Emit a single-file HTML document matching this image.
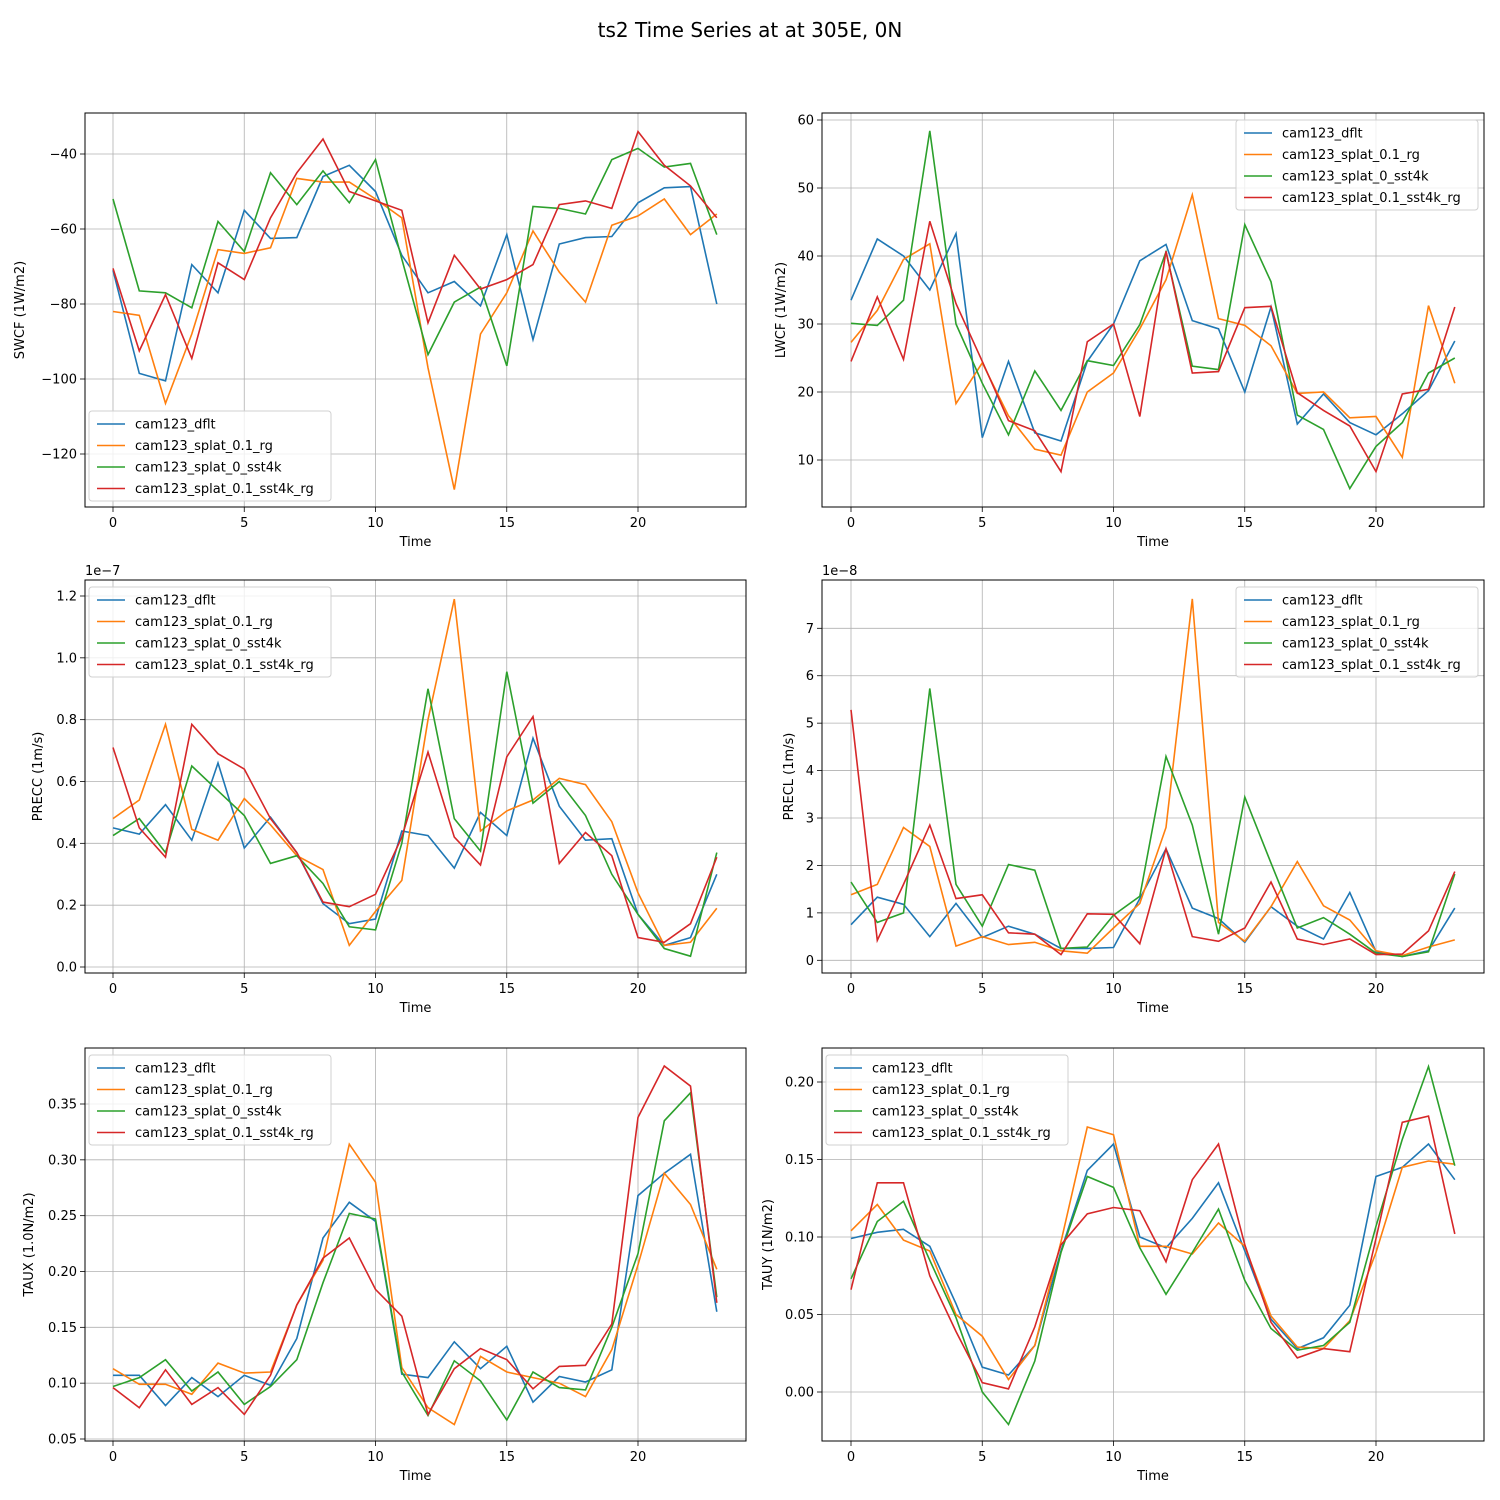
<!DOCTYPE html>
<html><head><meta charset="utf-8"><style>
body{margin:0;background:#fff}
svg{display:block;font-family:"DejaVu Sans","Liberation Sans",sans-serif}
</style></head><body>
<svg id="fig" width="1500" height="1500" viewBox="0 0 1500 1500" xmlns="http://www.w3.org/2000/svg">
<rect width="1500" height="1500" fill="#fff"/>
<text x="750" y="37" font-size="20" text-anchor="middle">ts2 Time Series at at 305E, 0N</text>
</svg>
<script>
const seriesNames=["cam123_dflt","cam123_splat_0.1_rg","cam123_splat_0_sst4k","cam123_splat_0.1_sst4k_rg"];
const colors=["#1f77b4","#ff7f0e","#2ca02c","#d62728"];
const xTicks=[0,5,10,15,20];

const swcfDflt=[-71,-98.5,-100.5,-69.5,-77,-55,-62.5,-62.3,-46,-43,-50,-67,-77,-74,-80.5,-61.5,-89.5,-64,-62.3,-62,-53,-49,-48.7,-80];
const swcfRg=[-82,-83,-106.5,-88,-65.5,-66.5,-65,-46.5,-47.5,-47.5,-52,-57,-97,-129.5,-88,-77,-60.5,-71.5,-79.5,-59,-56.5,-52,-61.5,-56];
const swcfSst=[-52,-76.5,-77,-81,-58,-66,-45,-53.5,-44.5,-53,-41.5,-68,-93.5,-79.5,-75.5,-96.5,-54,-54.5,-56,-41.5,-38.5,-43.5,-42.5,-61.5];
const swcfSstRg=[-70.5,-92.5,-77.5,-94.5,-69,-73.5,-57,-45,-36,-50,-52.5,-55,-85,-67,-76,-73.5,-69.5,-53.5,-52.5,-54.5,-34,-43,-48.5,-57];

const lwcfDflt=[33.5,42.5,40,35,43.3,13.3,24.5,14,12.8,24.5,30,39.3,41.7,30.5,29.3,20,32.5,15.3,19.7,15.5,13.7,16.8,20.2,27.5];
const lwcfRg=[27.3,32,39.5,41.8,18.3,24.3,16.5,11.6,10.7,20,22.8,29.3,36.5,49,30.8,29.8,26.8,19.8,20,16.2,16.4,10.4,32.7,21.3];
const lwcfSst=[30.1,29.8,33.5,58.4,30,21.3,13.7,23.1,17.3,24.6,23.9,29.9,40.6,23.8,23.3,44.6,36.2,16.6,14.5,5.8,12,15.5,22.8,25];
const lwcfSstRg=[24.5,34,24.8,45.1,33,24.5,15.8,14.3,8.3,27.4,30,16.4,40.7,22.8,23,32.4,32.6,19.9,17.3,15,8.3,19.7,20.4,32.5];

const preccDflt=[0.45,0.43,0.525,0.41,0.66,0.385,0.485,0.37,0.205,0.14,0.155,0.44,0.425,0.32,0.5,0.425,0.74,0.52,0.41,0.415,0.17,0.07,0.095,0.3];
const preccRg=[0.48,0.54,0.785,0.445,0.41,0.545,0.46,0.36,0.315,0.07,0.18,0.28,0.8,1.19,0.44,0.505,0.54,0.61,0.59,0.47,0.24,0.07,0.08,0.19];
const preccSst=[0.425,0.48,0.37,0.65,0.57,0.49,0.335,0.36,0.27,0.13,0.12,0.4,0.9,0.48,0.375,0.955,0.53,0.6,0.49,0.3,0.17,0.06,0.035,0.37];
const preccSstRg=[0.71,0.45,0.355,0.785,0.69,0.64,0.48,0.37,0.21,0.195,0.235,0.42,0.695,0.42,0.33,0.68,0.81,0.335,0.435,0.36,0.095,0.08,0.14,0.355];

const preclDflt=[0.75,1.33,1.18,0.5,1.2,0.48,0.72,0.55,0.25,0.25,0.27,1.3,2.35,1.1,0.88,0.38,1.13,0.72,0.45,1.43,0.18,0.08,0.2,1.1];
const preclRg=[1.38,1.6,2.8,2.4,0.3,0.5,0.33,0.38,0.2,0.15,0.68,1.2,2.8,7.62,0.8,0.4,1.13,2.08,1.15,0.85,0.2,0.1,0.28,0.43];
const preclSst=[1.65,0.8,1.0,5.73,1.6,0.72,2.02,1.9,0.25,0.28,0.95,1.35,4.3,2.85,0.55,3.44,2.05,0.68,0.9,0.55,0.15,0.08,0.18,1.82];
const preclSstRg=[5.28,0.42,1.6,2.85,1.3,1.38,0.58,0.55,0.12,0.98,0.97,0.35,2.35,0.5,0.4,0.68,1.65,0.45,0.33,0.45,0.12,0.13,0.62,1.87];

const tauxDflt=[0.107,0.107,0.08,0.105,0.088,0.107,0.098,0.14,0.23,0.262,0.245,0.108,0.105,0.137,0.113,0.133,0.083,0.106,0.101,0.112,0.268,0.288,0.305,0.164];
const tauxRg=[0.113,0.099,0.099,0.09,0.118,0.109,0.11,0.17,0.21,0.314,0.28,0.114,0.078,0.063,0.124,0.11,0.105,0.1,0.088,0.13,0.206,0.288,0.26,0.202];
const tauxSst=[0.097,0.105,0.121,0.093,0.11,0.081,0.097,0.121,0.19,0.252,0.247,0.11,0.071,0.12,0.102,0.067,0.11,0.096,0.094,0.15,0.216,0.335,0.36,0.177];
const tauxSstRg=[0.096,0.078,0.112,0.081,0.096,0.072,0.107,0.17,0.212,0.23,0.184,0.16,0.072,0.113,0.131,0.121,0.095,0.115,0.116,0.153,0.338,0.384,0.366,0.172];

const tauyDflt=[0.099,0.103,0.105,0.094,0.057,0.016,0.011,0.03,0.091,0.143,0.16,0.1,0.093,0.112,0.135,0.091,0.047,0.028,0.035,0.056,0.139,0.145,0.16,0.137];
const tauyRg=[0.104,0.121,0.098,0.091,0.05,0.036,0.008,0.03,0.097,0.171,0.166,0.094,0.094,0.089,0.109,0.094,0.049,0.029,0.028,0.046,0.09,0.145,0.149,0.147];
const tauySst=[0.073,0.11,0.123,0.085,0.048,0.0,-0.021,0.02,0.09,0.139,0.132,0.093,0.063,0.09,0.118,0.072,0.041,0.027,0.03,0.045,0.107,0.163,0.21,0.146];
const tauySstRg=[0.066,0.135,0.135,0.075,0.039,0.006,0.002,0.042,0.095,0.115,0.119,0.117,0.084,0.137,0.16,0.095,0.045,0.022,0.028,0.026,0.099,0.174,0.178,0.102];

const swcfTicks=[-40,-60,-80,-100,-120];
const lwcfTicks=[60,50,40,30,20,10];
const preccTicks=["1.2","1.0","0.8","0.6","0.4","0.2","0.0"];
const preclTicks=[7,6,5,4,3,2,1,0];
const tauxTicks=["0.35","0.30","0.25","0.20","0.15","0.10","0.05"];
const tauyTicks=["0.20","0.15","0.10","0.05","0.00"];

const NS="http://www.w3.org/2000/svg";
const fig=document.getElementById('fig');
function mk(tag,attrs,parent,text){const e=document.createElementNS(NS,tag);for(const k in attrs)e.setAttribute(k,attrs[k]);if(text!==undefined)e.textContent=text;(parent||fig).appendChild(e);return e;}

const panels=[
 {name:"swcf",label:"SWCF (1W/m2)",col:0,row:0,ylab:24,data:[swcfDflt,swcfRg,swcfSst,swcfSstRg],ticks:swcfTicks,v0:-40,p0:154,v1:-120,p1:454,legend:"ll",exp:""},
 {name:"lwcf",label:"LWCF (1W/m2)",col:1,row:0,ylab:785,data:[lwcfDflt,lwcfRg,lwcfSst,lwcfSstRg],ticks:lwcfTicks,v0:60,p0:120,v1:10,p1:460,legend:"ur",exp:""},
 {name:"precc",label:"PRECC (1m/s)",col:0,row:1,ylab:42,data:[preccDflt,preccRg,preccSst,preccSstRg],ticks:preccTicks,v0:1.2,p0:596,v1:0,p1:967,legend:"ul",exp:"1e\u22127"},
 {name:"precl",label:"PRECL (1m/s)",col:1,row:1,ylab:793,data:[preclDflt,preclRg,preclSst,preclSstRg],ticks:preclTicks,v0:7,p0:628.3,v1:0,p1:960.3,legend:"ur",exp:"1e\u22128"},
 {name:"taux",label:"TAUX (1.0N/m2)",col:0,row:2,ylab:33,data:[tauxDflt,tauxRg,tauxSst,tauxSstRg],ticks:tauxTicks,v0:0.35,p0:1104,v1:0.05,p1:1439,legend:"ul",exp:""},
 {name:"tauy",label:"TAUY (1N/m2)",col:1,row:2,ylab:772,data:[tauyDflt,tauyRg,tauySst,tauySstRg],ticks:tauyTicks,v0:0.2,p0:1082,v1:0,p1:1392,legend:"ul",exp:""}
];
const cols=[{l:85,r:746,x0:113},{l:822,r:1484,x0:851}];
const rows=[{t:113,b:507},{t:580,b:973},{t:1048,b:1441}];
const xStep=26.25;

panels.forEach(P=>{
 const C=cols[P.col],R=rows[P.row];
 const g=mk('g',{});
 
 
 const xs=i=>C.x0+i*xStep;
 const ys=v=>P.p0+(v-P.v0)*(P.p1-P.p0)/(P.v1-P.v0);
 const clip='clip-'+P.name;
 const cp=mk('clipPath',{id:clip},g);mk('rect',{x:C.l,y:R.t,width:C.r-C.l,height:R.b-R.t},cp);
 xTicks.forEach(t=>{const x=xs(t);
  const gl=mk('line',{x1:x,x2:x,y1:R.t,y2:R.b,stroke:'#b0b0b0','stroke-width':0.8},g);
  
  mk('line',{x1:x,x2:x,y1:R.b,y2:R.b+5,stroke:'#000','stroke-width':0.8},g);
  const tl=mk('text',{x:x,y:R.b+20,'font-size':13,'text-anchor':'middle'},g,String(t));
  
 });
 P.ticks.forEach(t=>{const y=ys(parseFloat(t));
  const gl=mk('line',{x1:C.l,x2:C.r,y1:y,y2:y,stroke:'#b0b0b0','stroke-width':0.8},g);
  
  mk('line',{x1:C.l-5,x2:C.l,y1:y,y2:y,stroke:'#000','stroke-width':0.8},g);
  const tl=mk('text',{x:C.l-8,y:y+4.5,'font-size':13,'text-anchor':'end'},g,String(t).replace('-','\u2212'));
  
 });
 P.data.forEach((arr,si)=>{
  const pts=arr.map((v,i)=>xs(i).toFixed(1)+','+ys(v).toFixed(1)).join(' ');
  const pl=mk('polyline',{points:pts,fill:'none',stroke:colors[si],'stroke-width':1.6,'clip-path':'url(#'+clip+')'},g);
  
  
 });
 mk('rect',{x:C.l,y:R.t,width:C.r-C.l,height:R.b-R.t,fill:'none',stroke:'#000','stroke-width':1},g);
 const xl=mk('text',{x:(C.l+C.r)/2,y:R.b+39,'font-size':13,'text-anchor':'middle'},g,'Time');
 
 const yc=(R.t+R.b)/2;
 const yl=mk('text',{x:P.ylab,y:yc,'font-size':13,'text-anchor':'middle',transform:'rotate(-90 '+P.ylab+' '+yc+')'},g,P.label);
 
 if(P.exp){const ex=mk('text',{x:C.l,y:R.t-5,'font-size':13},g,P.exp);
  }
 const lw=242,lh=90;
 let lx,ly;
 if(P.legend==='ll'){lx=C.l+4;ly=R.b-6-lh;}
 else if(P.legend==='ur'){lx=C.r-6-lw;ly=R.t+7;}
 else {lx=C.l+4;ly=R.t+7;}
 const lg=mk('g',{},g);
 
 mk('rect',{x:lx,y:ly,width:lw,height:lh,rx:3,fill:'#fff','fill-opacity':0.8,stroke:'#d0d0d0','stroke-width':1},lg);
 seriesNames.forEach((n,si)=>{const y=ly+13+si*21.5;
  const e=mk('g',{},lg);
  
  mk('line',{x1:lx+8,x2:lx+36,y1:y,y2:y,stroke:colors[si],'stroke-width':1.6},e);
  mk('text',{x:lx+46,y:y+4.5,'font-size':13},e,n);
 });
});
</script>
</body></html>
